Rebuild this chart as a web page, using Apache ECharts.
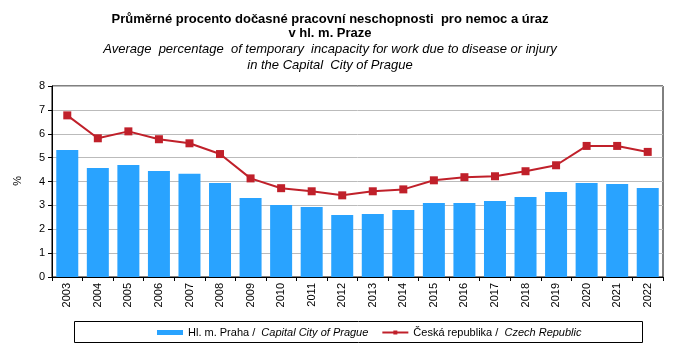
<!DOCTYPE html>
<html><head><meta charset="utf-8">
<script src="https://cdn.jsdelivr.net/npm/echarts@6/dist/echarts.min.js"></script>
<style>html,body{margin:0;padding:0;background:#fff}#c{width:677px;height:357px}</style>
</head><body><div id="c"></div>
<script>
const years = ['2003','2004','2005','2006','2007','2008','2009','2010','2011','2012','2013','2014','2015','2016','2017','2018','2019','2020','2021','2022'];
const praha = [5.32,4.57,4.69,4.44,4.32,3.94,3.31,3.02,2.93,2.60,2.64,2.81,3.10,3.10,3.18,3.35,3.56,3.94,3.90,3.73];
const cr = [6.77,5.81,6.10,5.77,5.60,5.15,4.13,3.72,3.59,3.42,3.59,3.67,4.05,4.18,4.22,4.43,4.68,5.49,5.49,5.24];
const yTicks = [0,1,2,3,4,5,6,7,8];

const chart = echarts.init(document.getElementById('c'), null, {renderer:'canvas'});
const F = '"Liberation Sans", Arial, sans-serif';
function t(text, y, font){
  return {type:'text', x:330, y:y, style:{text:text, font:font+' '+F, fill:'#000', align:'center', verticalAlign:'middle'}};
}
chart.setOption({
  animation:false,
  textStyle:{fontFamily:F},
  graphic:[
    t('Průměrné procento dočasné pracovní neschopnosti  pro nemoc a úraz', 19, 'bold 13px'),
    t('v hl. m. Praze', 33, 'bold 13px'),
    t('Average  percentage  of temporary  incapacity for work due to disease or injury', 49, 'italic 13px'),
    t('in the Capital  City of Prague', 65, 'italic 13px'),
    {type:'rect', shape:{x:74.5, y:321.5, width:568, height:21}, style:{fill:'none', stroke:'#000', lineWidth:1}},
    {type:'text', x:22, y:176, rotation:-Math.PI/2, style:{text:'%', font:'11px '+F, fill:'#000'}}
  ],
  legend:{
    top:322, left:152, itemGap:13, itemWidth:26, itemHeight:5,
    textStyle:{fontSize:11, color:'#000', padding:[0,0,0,0], rich:{i:{fontStyle:'italic', fontSize:11, color:'#000'}}},
    data:[{name:'praha', icon:'rect'},{name:'cr'}],
    formatter:function(n){ return n==='praha' ? 'Hl. m. Praha /  {i|Capital City of Prague}' : 'Česká republika /  {i|Czech Republic}'; }
  },
  grid:{left:52, right:14, top:86, bottom:80, show:true, borderColor:'#000', borderWidth:1},
  xAxis:{type:'category', data:years, boundaryGap:true,
    axisLine:{lineStyle:{color:'#000'}},
    axisTick:{show:true, length:4, lineStyle:{color:'#000'}},
    axisLabel:{rotate:90, fontSize:11, color:'#000', margin:6, interval:0}},
  yAxis:{type:'value', min:0, max:8, interval:1,
    axisLine:{show:true, lineStyle:{color:'#000'}},
    axisTick:{show:true, length:4, lineStyle:{color:'#000'}},
    axisLabel:{fontSize:11, color:'#000', margin:7, formatter:v=>yTicks.includes(v)?String(v):''},
    splitLine:{lineStyle:{color:'#BBBBBB'}}},
  series:[
    {name:'praha', type:'bar', data:praha, barCategoryGap:'28%', itemStyle:{color:'#29A3FF'}},
    {name:'cr', type:'line', data:cr, symbol:'rect', symbolSize:8, itemStyle:{color:'#C0202A'}, lineStyle:{color:'#C0202A', width:2}}
  ]
});
</script></body></html>
